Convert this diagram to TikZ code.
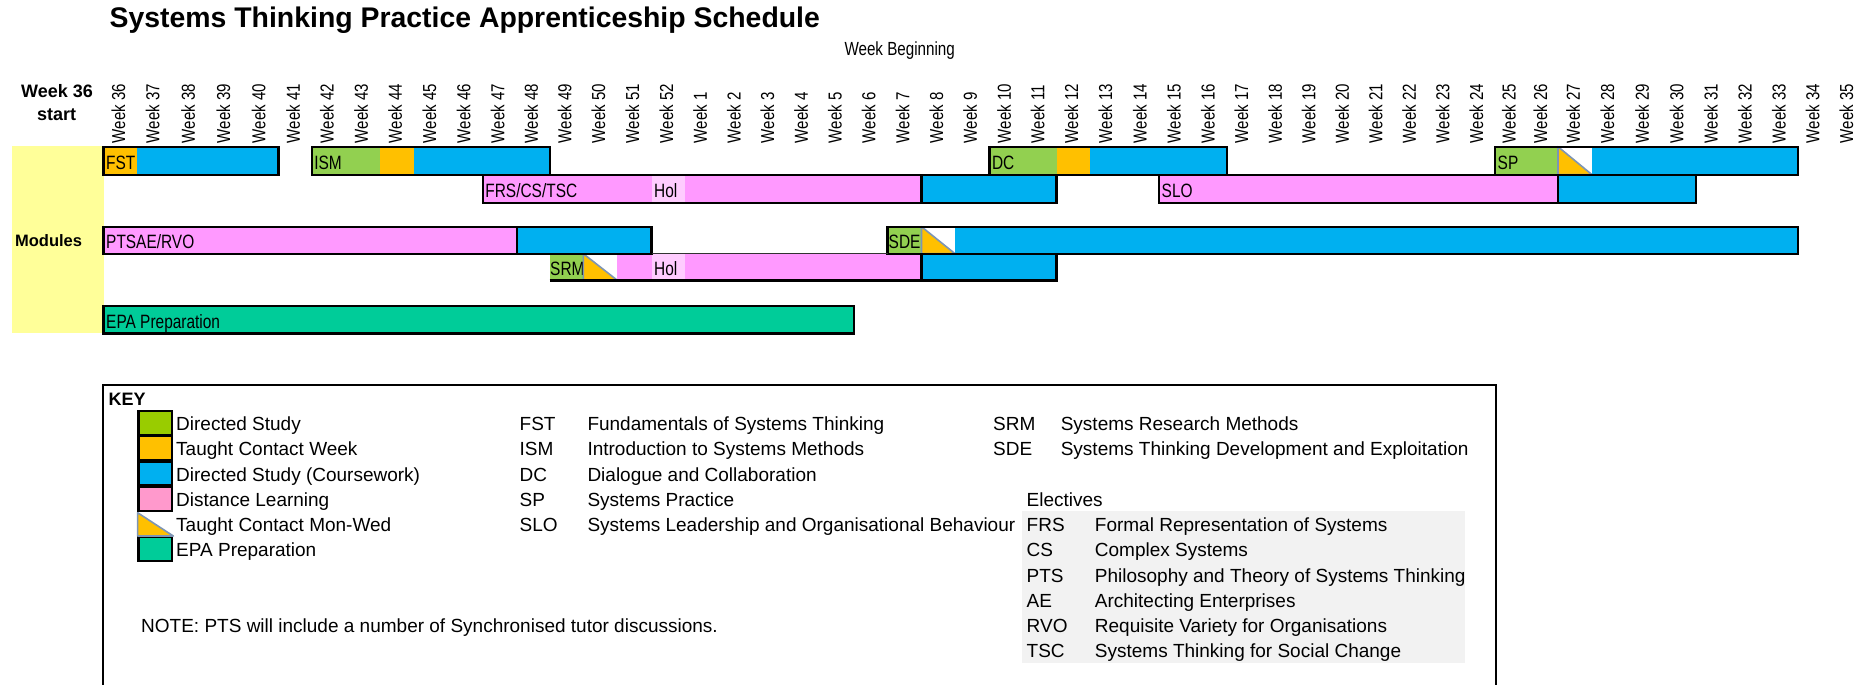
\documentclass[tikz,border=0pt]{standalone}
\usepackage{fontspec}
\setmainfont{Liberation Sans}
\newfontfamily\narrowfont{Liberation Sans}[FakeStretch=0.8]
\usetikzlibrary{calc}

\definecolor{dsgreen}{HTML}{92D050}
\definecolor{keygreen}{HTML}{99CC00}
\definecolor{tcorange}{HTML}{FFC000}
\definecolor{cwblue}{HTML}{00B0F0}
\definecolor{dlpink}{HTML}{FF99FF}
\definecolor{keypink}{HTML}{FF99CC}
\definecolor{holpink}{HTML}{FFCCFF}
\definecolor{epateal}{HTML}{00CC99}
\definecolor{modyellow}{HTML}{FFFF99}
\definecolor{elecgrey}{HTML}{F2F2F2}
\definecolor{triedge}{HTML}{7D95B5}

% filled cell span: colour, first column, end column, top row, bottom row
\newcommand\seg[5]{\fill[#1] (c#2 |- #4) rectangle (c#3 |- #5);}
% outline of a module bar
\newcommand\barbox[4]{\draw[barline] (c#1 |- #3) rectangle (c#2 |- #4);}
% "taught contact Mon-Wed" cell: half-filled triangle
\newcommand\tricell[4]{%
  \fill[white] (c#1 |- #3) rectangle (c#2 |- #4);
  \filldraw[fill=tcorange, draw=triedge, line width=1.6pt, line join=round]
    (c#1 |- #3) -- (c#1 |- #4) -- (c#2 |- #4) -- cycle;}

\begin{document}
\begin{tikzpicture}[x=1pt,y=-1pt,
  barline/.style={line width=2.4pt},
  thinline/.style={line width=1pt, draw=black!80},
  barlabel/.style={anchor=base west, inner sep=0pt, xshift=2.5pt, yshift=5pt,
    font=\narrowfont\fontsize{19.3}{22}\selectfont},
  weeklabel/.style={anchor=base west, inner sep=0pt, rotate=90,
    font=\narrowfont\fontsize{18.8}{22}\selectfont},
  keytext/.style={anchor=base west, inner sep=0pt, font=\fontsize{19}{22}\selectfont},
  keyswatch/.style={draw=black, line width=2.2pt},
  boldhead/.style={anchor=base, inner sep=0pt, font=\bfseries\fontsize{18}{22}\selectfont}
]
\useasboundingbox (0,0) rectangle (1872,685);

% week column boundaries
\foreach \xv [count=\i from 0] in {103.5,137.0,172.3,207.7,243.0,278.3,311.7,345.9,380.1,414.3,
  448.5,482.7,516.7,549.7,583.3,617.3,651.5,685.2,718.9,752.6,786.3,820.0,853.7,887.5,921.5,
  955.0,989.3,1022.9,1056.5,1090.2,1124.6,1159.0,1192.9,1226.7,1260.2,1293.8,1327.3,1360.9,
  1394.4,1427.9,1461.5,1495.0,1526.5,1558.0,1592.0,1626.7,1661.3,1696.0,1729.9,1763.8,
  1797.7,1831.5,1865.3}
  {\coordinate (c\i) at (\xv,0);}

% row edges
\coordinate (r1t) at (0,146.7);
\coordinate (r1b) at (0,174.7);
\coordinate (r2b) at (0,202.7);
\coordinate (r3t) at (0,226.7);
\coordinate (r3b) at (0,253.7);
\coordinate (r4b) at (0,280.3);
\coordinate (r5t) at (0,305.7);
\coordinate (r5b) at (0,333.3);

% title and headings
\node[anchor=base west, inner sep=0pt, font=\bfseries\fontsize{28.4}{32}\selectfont]
  (title) at (109.5,27.5) {Systems Thinking Practice Apprenticeship Schedule};
\node[anchor=base, inner sep=0pt, font=\narrowfont\fontsize{19}{22}\selectfont]
  (weekbeg) at (899.7,56) {Week Beginning};
\node[boldhead] (startA) at (57,97.3) {Week 36};
\node[boldhead] (startB) at (56.7,121) {start};

\foreach \i in {0,...,51} {
  \pgfmathtruncatemacro\j{\i+1}
  \pgfmathtruncatemacro\wk{mod(\i+35,52)+1}
  \node[weeklabel] (wk\i) at ($(c\i)!0.5!(c\j)+(4.75,143.3)$) {Week \wk};
}

% modules side block
\fill[modyellow] (12.3,146) rectangle (c0 |- r5b);
\node[anchor=base, inner sep=0pt, font=\bfseries\fontsize{16.5}{20}\selectfont]
  (modules) at (48.6,246) {Modules};

% ---- row 1: FST, ISM, DC, SP
\seg{tcorange}{0}{1}{r1t}{r1b}
\seg{cwblue}{1}{5}{r1t}{r1b}
\seg{dsgreen}{6}{8}{r1t}{r1b}
\seg{tcorange}{8}{9}{r1t}{r1b}
\seg{cwblue}{9}{13}{r1t}{r1b}
\seg{dsgreen}{26}{28}{r1t}{r1b}
\seg{tcorange}{28}{29}{r1t}{r1b}
\seg{cwblue}{29}{33}{r1t}{r1b}
\seg{dsgreen}{41}{43}{r1t}{r1b}
\seg{cwblue}{44}{50}{r1t}{r1b}

% ---- row 2: FRS/CS/TSC, SLO
\seg{dlpink}{11}{16}{r1b}{r2b}
\seg{holpink}{16}{17}{r1b}{r2b}
\seg{dlpink}{17}{24}{r1b}{r2b}
\seg{cwblue}{24}{28}{r1b}{r2b}
\seg{dlpink}{31}{43}{r1b}{r2b}
\seg{cwblue}{43}{47}{r1b}{r2b}

% ---- row 3: PTSAE/RVO, SDE
\seg{dlpink}{0}{12}{r3t}{r3b}
\seg{cwblue}{12}{16}{r3t}{r3b}
\seg{dsgreen}{23}{24}{r3t}{r3b}
\seg{cwblue}{25}{50}{r3t}{r3b}

% ---- row 4: SRM
\seg{dsgreen}{13}{14}{r3b}{r4b}
\seg{dlpink}{15}{16}{r3b}{r4b}
\seg{holpink}{16}{17}{r3b}{r4b}
\seg{dlpink}{17}{24}{r3b}{r4b}
\seg{cwblue}{24}{28}{r3b}{r4b}

% ---- row 5: EPA
\seg{epateal}{0}{22}{r5t}{r5b}

% bar labels
\node[barlabel] (lFST) at (c0 |- r1b) {FST};
\node[barlabel] (lISM) at (c6 |- r1b) {ISM};
\node[barlabel] (lDC) at (c26 |- r1b) {DC};
\node[barlabel] (lSP) at (c41 |- r1b) {SP};
\node[barlabel] (lFRS) at (c11 |- r2b) {FRS/CS/TSC};
\node[barlabel] (lHolA) at (c16 |- r2b) {Hol};
\node[barlabel] (lSLO) at (c31 |- r2b) {SLO};
\node[barlabel] (lPTS) at (c0 |- r3b) {PTSAE/RVO};
\node[barlabel, xshift=-1.5pt] (lSDE) at (c23 |- r3b) {SDE};
\node[barlabel, xshift=-2.2pt] (lSRM) at (c13 |- r4b) {SRM};
\node[barlabel] (lHolB) at (c16 |- r4b) {Hol};
\node[barlabel] (lEPA) at (c0 |- r5b) {EPA Preparation};

% taught contact Mon-Wed cells
\tricell{43}{44}{r1t}{r1b}
\tricell{24}{25}{r3t}{r3b}
\tricell{14}{15}{r3b}{r4b}

% bar outlines
\barbox{0}{5}{r1t}{r1b}
\barbox{6}{13}{r1t}{r1b}
\barbox{26}{33}{r1t}{r1b}
\barbox{41}{50}{r1t}{r1b}
\barbox{11}{28}{r1b}{r2b}
\draw[barline] (c24 |- r1b) -- (c24 |- r2b);
\barbox{31}{47}{r1b}{r2b}
\draw[barline] (c43 |- r1b) -- (c43 |- r2b);
\barbox{0}{16}{r3t}{r3b}
\draw[barline] (c12 |- r3t) -- (c12 |- r3b);
\barbox{23}{50}{r3t}{r3b}
\draw[thinline] (c16 |- r3b) -- (c23 |- r3b);
\draw[barline] (c13 |- r4b) -- (c28 |- r4b) -- (c28 |- r3b);
\draw[barline] (c24 |- r3b) -- (c24 |- r4b);
\barbox{0}{22}{r5t}{r5b}

% ---- key
\draw[line width=2.2pt] (102.6,687) -- (102.6,384.7) -- (1495.7,384.7) -- (1495.7,687);
\node[anchor=base west, inner sep=0pt, font=\bfseries\fontsize{18}{22}\selectfont]
  (keytitle) at (108.4,405) {KEY};

\fill[elecgrey] (1022.3,511) rectangle (1465,662.7);

\foreach \r/\col/\txt in {1/keygreen/Directed Study, 2/tcorange/Taught Contact Week,
  3/cwblue/Directed Study (Coursework), 4/keypink/Distance Learning, 6/epateal/EPA Preparation} {
  \pgfmathsetmacro\yt{410+25.25*(\r-1)}
  \pgfmathsetmacro\yb{410+25.25*\r}
  \filldraw[keyswatch, fill=\col] (138.4,\yt+1.1) rectangle (172.2,\yb-0.3);
}
\filldraw[fill=tcorange, draw=triedge, line width=1.6pt, line join=round]
  (137.6,512.7) -- (137.6,536) -- (173.3,536) -- cycle;

\foreach \r/\txt in {1/Directed Study, 2/Taught Contact Week, 3/Directed Study (Coursework),
  4/Distance Learning, 5/Taught Contact Mon-Wed, 6/EPA Preparation} {
  \node[keytext] (kl\r) at (176,410+25.25*\r-4.6) {\txt};
}

\foreach \r/\ab/\txt in {1/FST/Fundamentals of Systems Thinking,
  2/ISM/Introduction to Systems Methods, 3/DC/Dialogue and Collaboration,
  4/SP/Systems Practice, 5/SLO/Systems Leadership and Organisational Behaviour} {
  \node[keytext] (kma\r) at (519.5,410+25.25*\r-4.6) {\ab};
  \node[keytext] (kmd\r) at (587.3,410+25.25*\r-4.6) {\txt};
}

\foreach \r/\ab/\txt in {1/SRM/Systems Research Methods,
  2/SDE/Systems Thinking Development and Exploitation} {
  \node[keytext] (kna\r) at (993,410+25.25*\r-4.6) {\ab};
  \node[keytext] (knd\r) at (1060.6,410+25.25*\r-4.6) {\txt};
}

\node[keytext] (electives) at (1026.5,506.6) {Electives};
\foreach \r/\ab/\txt in {5/FRS/Formal Representation of Systems, 6/CS/Complex Systems,
  7/PTS/Philosophy and Theory of Systems Thinking, 8/AE/Architecting Enterprises,
  9/RVO/Requisite Variety for Organisations, 10/TSC/Systems Thinking for Social Change} {
  \node[keytext] (kea\r) at (1026.5,410+25.25*\r-4.6) {\ab};
  \node[keytext] (ked\r) at (1094.7,410+25.25*\r-4.6) {\txt};
}

\node[keytext] (note) at (141,632) {NOTE: PTS will include a number of Synchronised tutor discussions.};
\end{tikzpicture}
\end{document}
